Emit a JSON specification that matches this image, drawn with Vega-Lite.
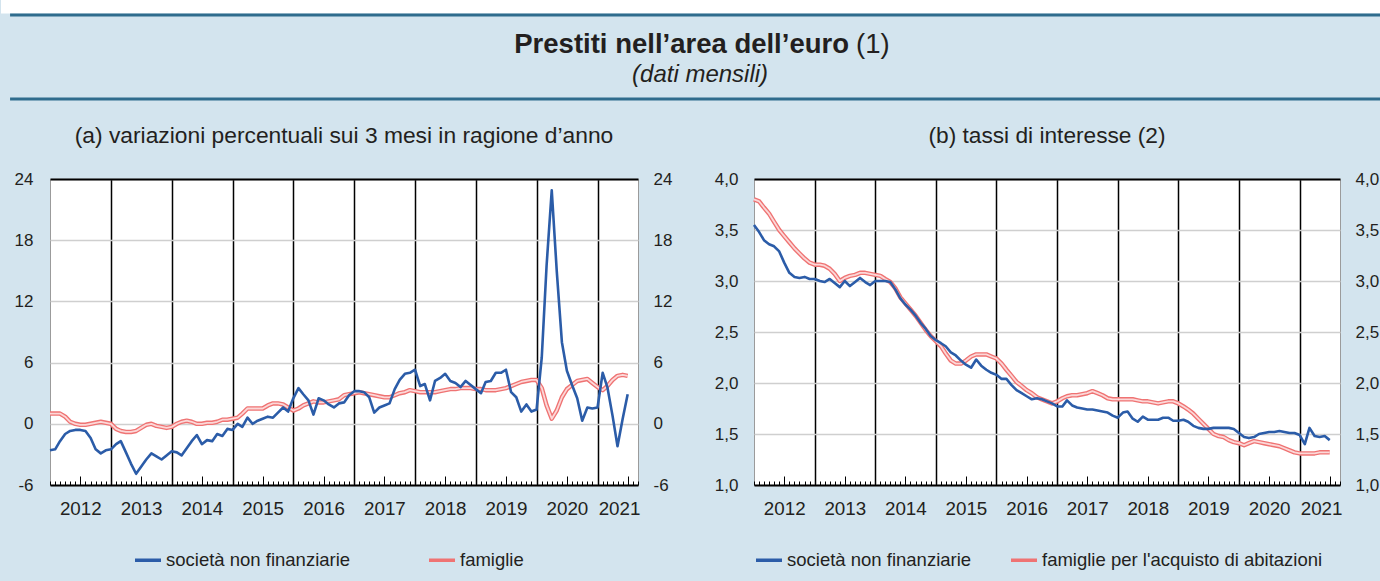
{
  "$schema": "https://vega.github.io/schema/vega-lite/v6.json",
  "background": "#d3e4ee",
  "padding": {"left": 0, "top": 0, "right": 0, "bottom": 30},
  "config": {
    "font": "Liberation Sans",
    "axis": {"labelColor": "#231f20", "labelFontSize": 17, "title": null},
    "view": {"stroke": null}
  },
  "datasets": {
    "a": [
      {"d":"2012-01-01","snf":-2.6,"fam":1.0},{"d":"2012-02-01","snf":-2.5,"fam":1.0},{"d":"2012-03-01","snf":-1.7,"fam":1.0},{"d":"2012-04-01","snf":-1.0,"fam":0.7},{"d":"2012-05-01","snf":-0.7,"fam":0.2},{"d":"2012-06-01","snf":-0.6,"fam":0.0},{"d":"2012-07-01","snf":-0.6,"fam":-0.1},{"d":"2012-08-01","snf":-0.7,"fam":-0.1},{"d":"2012-09-01","snf":-1.4,"fam":0.0},{"d":"2012-10-01","snf":-2.5,"fam":0.1},{"d":"2012-11-01","snf":-2.9,"fam":0.2},{"d":"2012-12-01","snf":-2.6,"fam":0.1},
      {"d":"2013-01-01","snf":-2.5,"fam":0.0},{"d":"2013-02-01","snf":-2.0,"fam":-0.5},{"d":"2013-03-01","snf":-1.7,"fam":-0.7},{"d":"2013-04-01","snf":-2.8,"fam":-0.8},{"d":"2013-05-01","snf":-3.9,"fam":-0.8},{"d":"2013-06-01","snf":-4.9,"fam":-0.7},{"d":"2013-07-01","snf":-4.2,"fam":-0.4},{"d":"2013-08-01","snf":-3.5,"fam":-0.1},{"d":"2013-09-01","snf":-2.9,"fam":0.0},{"d":"2013-10-01","snf":-3.2,"fam":-0.2},{"d":"2013-11-01","snf":-3.5,"fam":-0.3},{"d":"2013-12-01","snf":-3.1,"fam":-0.4},
      {"d":"2014-01-01","snf":-2.7,"fam":-0.3},{"d":"2014-02-01","snf":-2.8,"fam":0.0},{"d":"2014-03-01","snf":-3.1,"fam":0.2},{"d":"2014-04-01","snf":-2.4,"fam":0.3},{"d":"2014-05-01","snf":-1.7,"fam":0.2},{"d":"2014-06-01","snf":-1.1,"fam":0.0},{"d":"2014-07-01","snf":-2.0,"fam":0.0},{"d":"2014-08-01","snf":-1.6,"fam":0.1},{"d":"2014-09-01","snf":-1.7,"fam":0.1},{"d":"2014-10-01","snf":-1.0,"fam":0.2},{"d":"2014-11-01","snf":-1.2,"fam":0.4},{"d":"2014-12-01","snf":-0.5,"fam":0.4},
      {"d":"2015-01-01","snf":-0.6,"fam":0.5},{"d":"2015-02-01","snf":0.0,"fam":0.6},{"d":"2015-03-01","snf":-0.3,"fam":1.0},{"d":"2015-04-01","snf":0.6,"fam":1.5},{"d":"2015-05-01","snf":0.0,"fam":1.5},{"d":"2015-06-01","snf":0.3,"fam":1.5},{"d":"2015-07-01","snf":0.5,"fam":1.5},{"d":"2015-08-01","snf":0.7,"fam":1.8},{"d":"2015-09-01","snf":0.6,"fam":2.0},{"d":"2015-10-01","snf":1.1,"fam":2.0},{"d":"2015-11-01","snf":1.6,"fam":1.9},{"d":"2015-12-01","snf":1.2,"fam":1.6},
      {"d":"2016-01-01","snf":2.5,"fam":1.3},{"d":"2016-02-01","snf":3.5,"fam":1.5},{"d":"2016-03-01","snf":2.9,"fam":1.8},{"d":"2016-04-01","snf":2.3,"fam":2.0},{"d":"2016-05-01","snf":0.9,"fam":2.2},{"d":"2016-06-01","snf":2.5,"fam":2.1},{"d":"2016-07-01","snf":2.3,"fam":2.1},{"d":"2016-08-01","snf":1.9,"fam":2.2},{"d":"2016-09-01","snf":1.6,"fam":2.3},{"d":"2016-10-01","snf":2.0,"fam":2.4},{"d":"2016-11-01","snf":2.1,"fam":2.8},{"d":"2016-12-01","snf":2.8,"fam":2.9},
      {"d":"2017-01-01","snf":3.2,"fam":3.0},{"d":"2017-02-01","snf":3.2,"fam":3.1},{"d":"2017-03-01","snf":3.1,"fam":3.0},{"d":"2017-04-01","snf":2.6,"fam":2.9},{"d":"2017-05-01","snf":1.1,"fam":2.8},{"d":"2017-06-01","snf":1.6,"fam":2.7},{"d":"2017-07-01","snf":1.8,"fam":2.6},{"d":"2017-08-01","snf":2.0,"fam":2.6},{"d":"2017-09-01","snf":3.4,"fam":2.8},{"d":"2017-10-01","snf":4.3,"fam":3.0},{"d":"2017-11-01","snf":4.9,"fam":3.1},{"d":"2017-12-01","snf":5.0,"fam":3.3},
      {"d":"2018-01-01","snf":5.3,"fam":3.2},{"d":"2018-02-01","snf":3.7,"fam":3.1},{"d":"2018-03-01","snf":3.9,"fam":3.1},{"d":"2018-04-01","snf":2.3,"fam":3.1},{"d":"2018-05-01","snf":4.2,"fam":3.1},{"d":"2018-06-01","snf":4.5,"fam":3.2},{"d":"2018-07-01","snf":4.9,"fam":3.3},{"d":"2018-08-01","snf":4.2,"fam":3.4},{"d":"2018-09-01","snf":4.0,"fam":3.4},{"d":"2018-10-01","snf":3.6,"fam":3.5},{"d":"2018-11-01","snf":4.2,"fam":3.5},{"d":"2018-12-01","snf":3.8,"fam":3.5},
      {"d":"2019-01-01","snf":3.4,"fam":3.4},{"d":"2019-02-01","snf":3.0,"fam":3.4},{"d":"2019-03-01","snf":4.1,"fam":3.3},{"d":"2019-04-01","snf":4.2,"fam":3.3},{"d":"2019-05-01","snf":5.0,"fam":3.3},{"d":"2019-06-01","snf":5.0,"fam":3.4},{"d":"2019-07-01","snf":5.3,"fam":3.5},{"d":"2019-08-01","snf":3.1,"fam":3.7},{"d":"2019-09-01","snf":2.6,"fam":3.9},{"d":"2019-10-01","snf":1.2,"fam":4.1},{"d":"2019-11-01","snf":1.9,"fam":4.2},{"d":"2019-12-01","snf":1.2,"fam":4.3},
      {"d":"2020-01-01","snf":1.4,"fam":4.3},{"d":"2020-02-01","snf":6.5,"fam":3.5},{"d":"2020-03-01","snf":15.5,"fam":1.8},{"d":"2020-04-01","snf":22.9,"fam":0.5},{"d":"2020-05-01","snf":15.0,"fam":1.3},{"d":"2020-06-01","snf":8.0,"fam":2.6},{"d":"2020-07-01","snf":5.2,"fam":3.4},{"d":"2020-08-01","snf":3.8,"fam":3.8},{"d":"2020-09-01","snf":2.5,"fam":4.2},{"d":"2020-10-01","snf":0.3,"fam":4.3},{"d":"2020-11-01","snf":1.6,"fam":4.4},{"d":"2020-12-01","snf":1.5,"fam":4.0},
      {"d":"2021-01-01","snf":1.6,"fam":3.6},{"d":"2021-02-01","snf":5.0,"fam":3.3},{"d":"2021-03-01","snf":3.6,"fam":3.7},{"d":"2021-04-01","snf":0.8,"fam":4.3},{"d":"2021-05-01","snf":-2.2,"fam":4.7},{"d":"2021-06-01","snf":0.5,"fam":4.8},{"d":"2021-07-01","snf":2.9,"fam":4.7}
    ],
    "b": [
      {"d":"2012-01-01","snf":3.55,"fam":3.80},{"d":"2012-02-01","snf":3.48,"fam":3.78},{"d":"2012-03-01","snf":3.40,"fam":3.72},{"d":"2012-04-01","snf":3.36,"fam":3.66},{"d":"2012-05-01","snf":3.34,"fam":3.58},{"d":"2012-06-01","snf":3.29,"fam":3.50},{"d":"2012-07-01","snf":3.18,"fam":3.44},{"d":"2012-08-01","snf":3.08,"fam":3.38},{"d":"2012-09-01","snf":3.04,"fam":3.32},{"d":"2012-10-01","snf":3.03,"fam":3.27},{"d":"2012-11-01","snf":3.04,"fam":3.22},{"d":"2012-12-01","snf":3.02,"fam":3.18},
      {"d":"2013-01-01","snf":3.02,"fam":3.16},{"d":"2013-02-01","snf":3.00,"fam":3.16},{"d":"2013-03-01","snf":2.99,"fam":3.15},{"d":"2013-04-01","snf":3.02,"fam":3.12},{"d":"2013-05-01","snf":2.98,"fam":3.07},{"d":"2013-06-01","snf":2.94,"fam":3.00},{"d":"2013-07-01","snf":3.00,"fam":3.03},{"d":"2013-08-01","snf":2.95,"fam":3.05},{"d":"2013-09-01","snf":2.99,"fam":3.06},{"d":"2013-10-01","snf":3.03,"fam":3.08},{"d":"2013-11-01","snf":2.99,"fam":3.08},{"d":"2013-12-01","snf":2.96,"fam":3.07},
      {"d":"2014-01-01","snf":3.00,"fam":3.06},{"d":"2014-02-01","snf":3.00,"fam":3.05},{"d":"2014-03-01","snf":3.00,"fam":3.02},{"d":"2014-04-01","snf":2.99,"fam":2.99},{"d":"2014-05-01","snf":2.92,"fam":2.93},{"d":"2014-06-01","snf":2.83,"fam":2.84},{"d":"2014-07-01","snf":2.77,"fam":2.78},{"d":"2014-08-01","snf":2.72,"fam":2.72},{"d":"2014-09-01","snf":2.66,"fam":2.66},{"d":"2014-10-01","snf":2.59,"fam":2.59},{"d":"2014-11-01","snf":2.53,"fam":2.52},{"d":"2014-12-01","snf":2.46,"fam":2.46},
      {"d":"2015-01-01","snf":2.42,"fam":2.41},{"d":"2015-02-01","snf":2.39,"fam":2.36},{"d":"2015-03-01","snf":2.36,"fam":2.29},{"d":"2015-04-01","snf":2.30,"fam":2.22},{"d":"2015-05-01","snf":2.27,"fam":2.19},{"d":"2015-06-01","snf":2.22,"fam":2.19},{"d":"2015-07-01","snf":2.18,"fam":2.22},{"d":"2015-08-01","snf":2.15,"fam":2.26},{"d":"2015-09-01","snf":2.23,"fam":2.28},{"d":"2015-10-01","snf":2.17,"fam":2.28},{"d":"2015-11-01","snf":2.13,"fam":2.28},{"d":"2015-12-01","snf":2.10,"fam":2.26},
      {"d":"2016-01-01","snf":2.08,"fam":2.24},{"d":"2016-02-01","snf":2.04,"fam":2.19},{"d":"2016-03-01","snf":2.04,"fam":2.13},{"d":"2016-04-01","snf":1.98,"fam":2.07},{"d":"2016-05-01","snf":1.93,"fam":2.01},{"d":"2016-06-01","snf":1.90,"fam":1.97},{"d":"2016-07-01","snf":1.87,"fam":1.93},{"d":"2016-08-01","snf":1.84,"fam":1.90},{"d":"2016-09-01","snf":1.85,"fam":1.86},{"d":"2016-10-01","snf":1.84,"fam":1.84},{"d":"2016-11-01","snf":1.82,"fam":1.82},{"d":"2016-12-01","snf":1.80,"fam":1.80},
      {"d":"2017-01-01","snf":1.77,"fam":1.82},{"d":"2017-02-01","snf":1.77,"fam":1.85},{"d":"2017-03-01","snf":1.83,"fam":1.87},{"d":"2017-04-01","snf":1.78,"fam":1.88},{"d":"2017-05-01","snf":1.76,"fam":1.88},{"d":"2017-06-01","snf":1.75,"fam":1.89},{"d":"2017-07-01","snf":1.74,"fam":1.90},{"d":"2017-08-01","snf":1.74,"fam":1.92},{"d":"2017-09-01","snf":1.73,"fam":1.90},{"d":"2017-10-01","snf":1.72,"fam":1.88},{"d":"2017-11-01","snf":1.71,"fam":1.85},{"d":"2017-12-01","snf":1.68,"fam":1.84},
      {"d":"2018-01-01","snf":1.66,"fam":1.84},{"d":"2018-02-01","snf":1.71,"fam":1.84},{"d":"2018-03-01","snf":1.72,"fam":1.84},{"d":"2018-04-01","snf":1.65,"fam":1.84},{"d":"2018-05-01","snf":1.62,"fam":1.83},{"d":"2018-06-01","snf":1.67,"fam":1.82},{"d":"2018-07-01","snf":1.64,"fam":1.82},{"d":"2018-08-01","snf":1.64,"fam":1.81},{"d":"2018-09-01","snf":1.64,"fam":1.80},{"d":"2018-10-01","snf":1.66,"fam":1.81},{"d":"2018-11-01","snf":1.66,"fam":1.82},{"d":"2018-12-01","snf":1.63,"fam":1.82},
      {"d":"2019-01-01","snf":1.63,"fam":1.80},{"d":"2019-02-01","snf":1.64,"fam":1.77},{"d":"2019-03-01","snf":1.62,"fam":1.74},{"d":"2019-04-01","snf":1.58,"fam":1.70},{"d":"2019-05-01","snf":1.56,"fam":1.65},{"d":"2019-06-01","snf":1.55,"fam":1.60},{"d":"2019-07-01","snf":1.55,"fam":1.55},{"d":"2019-08-01","snf":1.56,"fam":1.50},{"d":"2019-09-01","snf":1.56,"fam":1.48},{"d":"2019-10-01","snf":1.56,"fam":1.47},{"d":"2019-11-01","snf":1.56,"fam":1.44},{"d":"2019-12-01","snf":1.55,"fam":1.42},
      {"d":"2020-01-01","snf":1.51,"fam":1.41},{"d":"2020-02-01","snf":1.47,"fam":1.39},{"d":"2020-03-01","snf":1.46,"fam":1.41},{"d":"2020-04-01","snf":1.47,"fam":1.43},{"d":"2020-05-01","snf":1.50,"fam":1.42},{"d":"2020-06-01","snf":1.51,"fam":1.41},{"d":"2020-07-01","snf":1.52,"fam":1.40},{"d":"2020-08-01","snf":1.52,"fam":1.39},{"d":"2020-09-01","snf":1.53,"fam":1.38},{"d":"2020-10-01","snf":1.52,"fam":1.36},{"d":"2020-11-01","snf":1.51,"fam":1.34},{"d":"2020-12-01","snf":1.51,"fam":1.32},
      {"d":"2021-01-01","snf":1.49,"fam":1.31},{"d":"2021-02-01","snf":1.40,"fam":1.31},{"d":"2021-03-01","snf":1.56,"fam":1.31},{"d":"2021-04-01","snf":1.48,"fam":1.31},{"d":"2021-05-01","snf":1.47,"fam":1.32},{"d":"2021-06-01","snf":1.48,"fam":1.32},{"d":"2021-07-01","snf":1.44,"fam":1.32}
    ]
  },
  "vconcat": [
    {
      "width": 1331,
      "height": 100,
      "view": {"stroke": null},
      "data": {"values": [{"titolo": "Prestiti nell’area dell’euro", "nota": "(1)", "sottotitolo": "(dati mensili)"}]},
      "layer": [
        {"mark": {"type": "rect", "color": "#ffffff"},
         "encoding": {
           "x": {"datum": -3.68, "type": "quantitative", "scale": {"domain": [0, 100], "nice": false, "zero": false}, "axis": null},
           "x2": {"datum": 100},
           "y": {"datum": 100, "type": "quantitative", "scale": {"domain": [0, 100], "nice": false, "zero": false}, "axis": null},
           "y2": {"datum": 86.5}}},
        {"mark": {"type": "rule", "color": "#2f6c8d", "strokeWidth": 3, "strokeCap": "butt"},
         "encoding": {
           "x": {"datum": -3.0, "type": "quantitative", "scale": {"domain": [0, 100], "nice": false, "zero": false}, "axis": null},
           "x2": {"datum": 100},
           "y": {"datum": 85, "type": "quantitative", "scale": {"domain": [0, 100], "nice": false, "zero": false}, "axis": null}}},
        {"mark": {"type": "rule", "color": "#2f6c8d", "strokeWidth": 3, "strokeCap": "butt"},
         "encoding": {
           "x": {"datum": -3.0, "type": "quantitative", "scale": {"domain": [0, 100], "nice": false, "zero": false}, "axis": null},
           "x2": {"datum": 100},
           "y": {"datum": 1, "type": "quantitative", "scale": {"domain": [0, 100], "nice": false, "zero": false}, "axis": null}}},
        {"mark": {"type": "text", "fontSize": 27.5, "fontWeight": "bold", "align": "right", "baseline": "middle", "color": "#231f20"},
         "encoding": {
           "x": {"datum": 60.03, "type": "quantitative", "scale": {"domain": [0, 100], "nice": false, "zero": false}, "axis": null},
           "y": {"datum": 55, "type": "quantitative", "scale": {"domain": [0, 100], "nice": false, "zero": false}, "axis": null},
           "text": {"field": "titolo"}}},
        {"mark": {"type": "text", "fontSize": 27.5, "align": "left", "baseline": "middle", "color": "#231f20"},
         "encoding": {
           "x": {"datum": 60.56, "type": "quantitative", "scale": {"domain": [0, 100], "nice": false, "zero": false}, "axis": null},
           "y": {"datum": 55, "type": "quantitative", "scale": {"domain": [0, 100], "nice": false, "zero": false}, "axis": null},
           "text": {"field": "nota"}}},
        {"mark": {"type": "text", "fontSize": 24, "fontStyle": "italic", "align": "center", "baseline": "middle", "color": "#231f20"},
         "encoding": {
           "x": {"datum": 48.84, "type": "quantitative", "scale": {"domain": [0, 100], "nice": false, "zero": false}, "axis": null},
           "y": {"datum": 25, "type": "quantitative", "scale": {"domain": [0, 100], "nice": false, "zero": false}, "axis": null},
           "text": {"field": "sottotitolo"}}}
      ]
    },
    {
      "hconcat": [
        {
          "width": 588,
          "height": 306,
          "data": {"name": "a"},
          "view": {"stroke": "#9b9b9b", "fill": "#ffffff"},
          "title": {"text": "(a) variazioni percentuali sui 3 mesi in ragione d’anno", "fontSize": 22.8, "fontWeight": "normal", "color": "#231f20", "offset": 22},
          "layer": [
            {
              "mark": {"type": "line", "strokeWidth": 4.5, "strokeJoin": "round"},
              "encoding": {
                "x": {"field": "d", "type": "temporal",
                      "scale": {"domain": [{"year": 2012, "month": 1, "date": 1, "utc": true}, {"year": 2021, "month": 9, "date": 1, "utc": true}]},
                      "axis": {"orient": "bottom", "values": [{"year": 2012, "month": 7, "date": 1, "utc": true}, {"year": 2013, "month": 7, "date": 1, "utc": true}, {"year": 2014, "month": 7, "date": 1, "utc": true}, {"year": 2015, "month": 7, "date": 1, "utc": true}, {"year": 2016, "month": 7, "date": 1, "utc": true}, {"year": 2017, "month": 7, "date": 1, "utc": true}, {"year": 2018, "month": 7, "date": 1, "utc": true}, {"year": 2019, "month": 7, "date": 1, "utc": true}, {"year": 2020, "month": 7, "date": 1, "utc": true}, {"year": 2021, "month": 5, "date": 10, "utc": true}],
                               "format": "%Y", "ticks": false, "tickSize": 0, "domain": false, "grid": false, "labelPadding": 14, "labelFontSize": 18.8, "labelOverlap": false, "labelFlush": false}},
                "y": {"field": "fam", "type": "quantitative", "scale": {"domain": [-6, 24], "nice": false, "zero": false},
                      "axis": {"orient": "right", "values": [-6, 0, 6, 12, 18, 24], "labelExpr": "'' + datum.value", "grid": false, "ticks": false, "tickSize": 0, "domain": false, "labelPadding": 15, "minExtent": 35, "maxExtent": 35}},
                "color": {"datum": "famiglie"}
              }
            },
            {
              "mark": {"type": "line", "strokeWidth": 1.8, "color": "#fcd8d8", "strokeJoin": "round"},
              "encoding": {
                "x": {"field": "d", "type": "temporal",
                      "scale": {"domain": [{"year": 2012, "month": 1, "date": 1, "utc": true}, {"year": 2021, "month": 9, "date": 1, "utc": true}]},
                      "axis": {"orient": "bottom", "tickCount": {"interval": "month", "step": 1}, "labels": false, "grid": false, "domain": true, "domainColor": "#000000", "domainWidth": 2, "ticks": true, "tickColor": "#000000", "tickWidth": 1,
                               "tickSize": {"condition": {"test": "utcmonth(datum.value) == 6", "value": -9}, "value": -4}}},
                "y": {"field": "fam", "type": "quantitative", "scale": {"domain": [-6, 24], "nice": false, "zero": false}, "axis": null}
              }
            },
            {
              "mark": {"type": "line", "strokeWidth": 2.6, "strokeJoin": "round"},
              "encoding": {
                "x": {"field": "d", "type": "temporal",
                      "scale": {"domain": [{"year": 2012, "month": 1, "date": 1, "utc": true}, {"year": 2021, "month": 9, "date": 1, "utc": true}]},
                      "axis": {"orient": "bottom", "values": [{"year": 2013, "month": 1, "date": 1, "utc": true}, {"year": 2014, "month": 1, "date": 1, "utc": true}, {"year": 2015, "month": 1, "date": 1, "utc": true}, {"year": 2016, "month": 1, "date": 1, "utc": true}, {"year": 2017, "month": 1, "date": 1, "utc": true}, {"year": 2018, "month": 1, "date": 1, "utc": true}, {"year": 2019, "month": 1, "date": 1, "utc": true}, {"year": 2020, "month": 1, "date": 1, "utc": true}, {"year": 2021, "month": 1, "date": 1, "utc": true}],
                               "labels": false, "ticks": false, "domain": false, "grid": true, "gridColor": "#000000", "gridWidth": 1.5}},
                "y": {"field": "snf", "type": "quantitative", "scale": {"domain": [-6, 24], "nice": false, "zero": false},
                      "axis": {"orient": "left", "values": [-6, 0, 6, 12, 18, 24], "labelExpr": "'' + datum.value", "grid": true, "gridColor": "#cfcfcf", "gridWidth": 1.5, "ticks": false, "tickSize": 0, "domain": false, "labelPadding": 17, "minExtent": 49, "maxExtent": 49}},
                "color": {"datum": "società non finanziarie",
                          "scale": {"domain": ["società non finanziarie", "famiglie"], "range": ["#2b5ca8", "#ef7373"]},
                          "legend": {"orient": "none", "legendX": 83, "legendY": 366, "direction": "horizontal", "title": null, "symbolType": "stroke", "symbolSize": 676, "symbolStrokeWidth": 3.5, "labelFontSize": 18.5, "labelColor": "#231f20", "labelOffset": 3, "columnPadding": 71, "labelLimit": 400, "padding": 0}}
              }
            },
            {
              "mark": {"type": "line", "opacity": 0},
              "encoding": {
                "x": {"field": "d", "type": "temporal",
                      "scale": {"domain": [{"year": 2012, "month": 1, "date": 1, "utc": true}, {"year": 2021, "month": 9, "date": 1, "utc": true}]},
                      "axis": {"orient": "top", "labels": false, "ticks": false, "grid": false, "domain": true, "domainColor": "#000000", "domainWidth": 2}},
                "y": {"field": "snf", "type": "quantitative", "scale": {"domain": [-6, 24], "nice": false, "zero": false}, "axis": null}
              }
            }
          ],
          "resolve": {"axis": {"x": "independent", "y": "independent"}}
        },
        {
          "width": 586,
          "height": 306,
          "data": {"name": "b"},
          "view": {"stroke": "#9b9b9b", "fill": "#ffffff"},
          "title": {"text": "(b) tassi di interesse (2)", "fontSize": 22.7, "fontWeight": "normal", "color": "#231f20", "offset": 22},
          "layer": [
            {
              "mark": {"type": "line", "strokeWidth": 4.5, "strokeJoin": "round"},
              "encoding": {
                "x": {"field": "d", "type": "temporal",
                      "scale": {"domain": [{"year": 2012, "month": 1, "date": 1, "utc": true}, {"year": 2021, "month": 9, "date": 1, "utc": true}]},
                      "axis": {"orient": "bottom", "values": [{"year": 2012, "month": 7, "date": 1, "utc": true}, {"year": 2013, "month": 7, "date": 1, "utc": true}, {"year": 2014, "month": 7, "date": 1, "utc": true}, {"year": 2015, "month": 7, "date": 1, "utc": true}, {"year": 2016, "month": 7, "date": 1, "utc": true}, {"year": 2017, "month": 7, "date": 1, "utc": true}, {"year": 2018, "month": 7, "date": 1, "utc": true}, {"year": 2019, "month": 7, "date": 1, "utc": true}, {"year": 2020, "month": 7, "date": 1, "utc": true}, {"year": 2021, "month": 5, "date": 10, "utc": true}],
                               "format": "%Y", "ticks": false, "tickSize": 0, "domain": false, "grid": false, "labelPadding": 14, "labelFontSize": 18.8, "labelOverlap": false, "labelFlush": false}},
                "y": {"field": "fam", "type": "quantitative", "scale": {"domain": [1, 4], "nice": false, "zero": false},
                      "axis": {"orient": "right", "values": [1, 1.5, 2, 2.5, 3, 3.5, 4], "labelExpr": "replace(format(datum.value, '.1f'), '.', ',')", "grid": false, "ticks": false, "tickSize": 0, "domain": false, "labelPadding": 15, "minExtent": 35, "maxExtent": 35}},
                "color": {"datum": "famiglie per l'acquisto di abitazioni"}
              }
            },
            {
              "mark": {"type": "line", "strokeWidth": 1.8, "color": "#fcd8d8", "strokeJoin": "round"},
              "encoding": {
                "x": {"field": "d", "type": "temporal",
                      "scale": {"domain": [{"year": 2012, "month": 1, "date": 1, "utc": true}, {"year": 2021, "month": 9, "date": 1, "utc": true}]},
                      "axis": {"orient": "bottom", "tickCount": {"interval": "month", "step": 1}, "labels": false, "grid": false, "domain": true, "domainColor": "#000000", "domainWidth": 2, "ticks": true, "tickColor": "#000000", "tickWidth": 1,
                               "tickSize": {"condition": {"test": "utcmonth(datum.value) == 6", "value": -9}, "value": -4}}},
                "y": {"field": "fam", "type": "quantitative", "scale": {"domain": [1, 4], "nice": false, "zero": false}, "axis": null}
              }
            },
            {
              "mark": {"type": "line", "strokeWidth": 2.6, "strokeJoin": "round"},
              "encoding": {
                "x": {"field": "d", "type": "temporal",
                      "scale": {"domain": [{"year": 2012, "month": 1, "date": 1, "utc": true}, {"year": 2021, "month": 9, "date": 1, "utc": true}]},
                      "axis": {"orient": "bottom", "values": [{"year": 2013, "month": 1, "date": 1, "utc": true}, {"year": 2014, "month": 1, "date": 1, "utc": true}, {"year": 2015, "month": 1, "date": 1, "utc": true}, {"year": 2016, "month": 1, "date": 1, "utc": true}, {"year": 2017, "month": 1, "date": 1, "utc": true}, {"year": 2018, "month": 1, "date": 1, "utc": true}, {"year": 2019, "month": 1, "date": 1, "utc": true}, {"year": 2020, "month": 1, "date": 1, "utc": true}, {"year": 2021, "month": 1, "date": 1, "utc": true}],
                               "labels": false, "ticks": false, "domain": false, "grid": true, "gridColor": "#000000", "gridWidth": 1.5}},
                "y": {"field": "snf", "type": "quantitative", "scale": {"domain": [1, 4], "nice": false, "zero": false},
                      "axis": {"orient": "left", "values": [1, 1.5, 2, 2.5, 3, 3.5, 4], "labelExpr": "replace(format(datum.value, '.1f'), '.', ',')", "grid": true, "gridColor": "#cfcfcf", "gridWidth": 1.5, "ticks": false, "tickSize": 0, "domain": false, "labelPadding": 16, "minExtent": 40, "maxExtent": 40}},
                "color": {"datum": "società non finanziarie",
                          "scale": {"domain": ["società non finanziarie", "famiglie per l'acquisto di abitazioni"], "range": ["#2b5ca8", "#ef7373"]},
                          "legend": {"orient": "none", "legendX": 0, "legendY": 366, "direction": "horizontal", "title": null, "symbolType": "stroke", "symbolSize": 676, "symbolStrokeWidth": 3.5, "labelFontSize": 18.5, "labelColor": "#231f20", "labelOffset": 3, "columnPadding": 32, "labelLimit": 400, "padding": 0}}
              }
            },
            {
              "mark": {"type": "line", "opacity": 0},
              "encoding": {
                "x": {"field": "d", "type": "temporal",
                      "scale": {"domain": [{"year": 2012, "month": 1, "date": 1, "utc": true}, {"year": 2021, "month": 9, "date": 1, "utc": true}]},
                      "axis": {"orient": "top", "labels": false, "ticks": false, "grid": false, "domain": true, "domainColor": "#000000", "domainWidth": 2}},
                "y": {"field": "snf", "type": "quantitative", "scale": {"domain": [1, 4], "nice": false, "zero": false}, "axis": null}
              }
            }
          ],
          "resolve": {"axis": {"x": "independent", "y": "independent"}}
        }
      ],
      "spacing": 39,
      "resolve": {"scale": {"color": "independent"}, "legend": {"color": "independent"}}
    }
  ],
  "spacing": 23
}
